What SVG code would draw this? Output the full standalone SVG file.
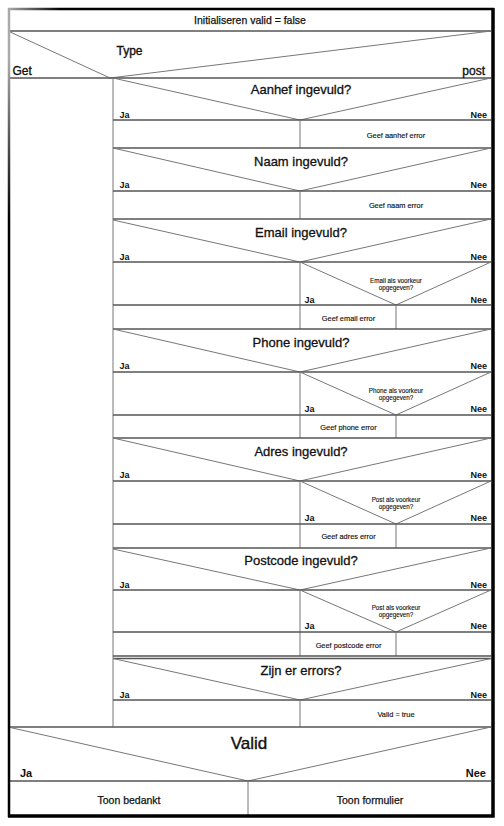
<svg xmlns="http://www.w3.org/2000/svg" width="504" height="826" viewBox="0 0 504 826">
<style>
text{font-family:"Liberation Sans",Arial,sans-serif;fill:#111;stroke:#111;stroke-width:0.2}
.q{font-size:13px;text-anchor:middle;stroke-width:0.3}
.yn{font-size:9px;font-weight:bold;stroke-width:0}
.r{font-size:7.4px;text-anchor:middle;stroke-width:0.15}
.n{font-size:6.3px;text-anchor:middle;stroke-width:0.12}
.e{text-anchor:end}
.ln{stroke:#777;stroke-width:1;fill:none}
.hl{stroke:#555;stroke-width:1.3;fill:none}
</style>
<defs>
<linearGradient id="gt" x1="8" y1="0" x2="60" y2="0" gradientUnits="userSpaceOnUse"><stop offset="0" stop-color="#aaa"/><stop offset="1" stop-color="#000"/></linearGradient>
<linearGradient id="gl" x1="0" y1="60" x2="0" y2="220" gradientUnits="userSpaceOnUse"><stop offset="0" stop-color="#aaa"/><stop offset="1" stop-color="#000"/></linearGradient>
</defs>
<rect x="0" y="0" width="504" height="826" fill="#fff"/>

<g id="init">
<line class="hl" x1="8" y1="31" x2="491" y2="31"/>
<text x="250" y="24.4" style="font-size:10.5px;text-anchor:middle;stroke-width:0.25">Initialiseren valid = false</text>
</g>

<g id="type">
<polyline class="ln" points="8,31 110,78 491,31"/>
<line class="hl" x1="8" y1="78" x2="491" y2="78"/>
<text x="116.5" y="55" style="font-size:12px;stroke-width:0.35">Type</text>
<text x="12.5" y="75" style="font-size:12px;stroke-width:0.35">Get</text>
<text x="485" y="75" class="e" style="font-size:12px;stroke-width:0.35">post</text>
<line class="ln" x1="113" y1="78" x2="113" y2="727"/>
</g>

<g id="aanhef">
<polyline class="ln" points="113,78 300,120 491,78"/>
<line class="hl" x1="113" y1="120" x2="491" y2="120"/>
<line class="ln" x1="300" y1="120" x2="300" y2="148"/>
<line class="hl" x1="113" y1="148" x2="491" y2="148"/>
<text class="q" x="301" y="94">Aanhef ingevuld?</text>
<text class="yn" x="119.5" y="118.2">Ja</text>
<text class="yn e" x="487" y="118.2">Nee</text>
<text class="r" x="396" y="137.6">Geef aanhef error</text>
</g>

<g id="naam">
<polyline class="ln" points="113,148 300,191 491,148"/>
<line class="hl" x1="113" y1="191" x2="491" y2="191"/>
<line class="ln" x1="300" y1="191" x2="300" y2="219"/>
<line class="hl" x1="113" y1="219" x2="491" y2="219"/>
<text class="q" x="301" y="166.3">Naam ingevuld?</text>
<text class="yn" x="119.5" y="188.2">Ja</text>
<text class="yn e" x="487" y="188.2">Nee</text>
<text class="r" x="396" y="208.3">Geef naam error</text>
</g>

<g id="email">
<polyline class="ln" points="113,220 300,262 491,219"/>
<line class="hl" x1="113" y1="262" x2="491" y2="262"/>
<line class="ln" x1="300" y1="262" x2="300" y2="329"/>
<polyline class="ln" points="300,262 396,305 491,262"/>
<line class="hl" x1="113" y1="305" x2="491" y2="305"/>
<line class="ln" x1="396" y1="305" x2="396" y2="329"/>
<line class="hl" x1="113" y1="329" x2="491" y2="329"/>
<text class="q" x="301" y="237.3">Email ingevuld?</text>
<text class="yn" x="119.5" y="259.9">Ja</text>
<text class="yn e" x="487" y="259.9">Nee</text>
<text class="n" x="396" y="282.5">Email als voorkeur</text>
<text class="n" x="396" y="289.5">opgegeven?</text>
<text class="yn" x="304.5" y="302.5">Ja</text>
<text class="yn e" x="487" y="302.5">Nee</text>
<text class="r" x="348.5" y="321">Geef email error</text>
</g>

<g id="phone">
<polyline class="ln" points="113,329 300,372 491,329"/>
<line class="hl" x1="113" y1="372" x2="491" y2="372"/>
<line class="ln" x1="300" y1="372" x2="300" y2="438"/>
<polyline class="ln" points="300,372 396,415 491,372"/>
<line class="hl" x1="113" y1="415" x2="491" y2="415"/>
<line class="ln" x1="396" y1="415" x2="396" y2="438"/>
<line class="hl" x1="113" y1="438" x2="491" y2="438"/>
<text class="q" x="301" y="347">Phone ingevuld?</text>
<text class="yn" x="119.5" y="368.9">Ja</text>
<text class="yn e" x="487" y="368.9">Nee</text>
<text class="n" x="396" y="392.5">Phone als voorkeur</text>
<text class="n" x="396" y="399.5">opgegeven?</text>
<text class="yn" x="304.5" y="411.5">Ja</text>
<text class="yn e" x="487" y="411.5">Nee</text>
<text class="r" x="348.5" y="430">Geef phone error</text>
</g>

<g id="adres">
<polyline class="ln" points="113,438 300,481 491,438"/>
<line class="hl" x1="113" y1="481" x2="491" y2="481"/>
<line class="ln" x1="300" y1="481" x2="300" y2="548"/>
<polyline class="ln" points="300,481 396,524 491,481"/>
<line class="hl" x1="113" y1="524" x2="491" y2="524"/>
<line class="ln" x1="396" y1="524" x2="396" y2="548"/>
<line class="hl" x1="113" y1="548" x2="491" y2="548"/>
<text class="q" x="301" y="456.3">Adres ingevuld?</text>
<text class="yn" x="119.5" y="478.2">Ja</text>
<text class="yn e" x="487" y="478.2">Nee</text>
<text class="n" x="396" y="501.5">Post als voorkeur</text>
<text class="n" x="396" y="508.5">opgegeven?</text>
<text class="yn" x="304.5" y="520.5">Ja</text>
<text class="yn e" x="487" y="520.5">Nee</text>
<text class="r" x="348.5" y="539.3">Geef adres error</text>
</g>

<g id="postcode">
<polyline class="ln" points="113,549 300,590 491,548"/>
<line class="hl" x1="113" y1="590" x2="491" y2="590"/>
<line class="ln" x1="300" y1="590" x2="300" y2="656"/>
<polyline class="ln" points="300,590 396,632 491,590"/>
<line class="hl" x1="113" y1="632" x2="491" y2="632"/>
<line class="ln" x1="396" y1="632" x2="396" y2="656"/>
<line class="hl" x1="113" y1="656" x2="491" y2="656"/>
<text class="q" x="301" y="565.3">Postcode ingevuld?</text>
<text class="yn" x="119.5" y="587.5">Ja</text>
<text class="yn e" x="487" y="587.5">Nee</text>
<text class="n" x="396" y="610">Post als voorkeur</text>
<text class="n" x="396" y="617">opgegeven?</text>
<text class="yn" x="304.5" y="629.2">Ja</text>
<text class="yn e" x="487" y="629.2">Nee</text>
<text class="r" x="348.5" y="648">Geef postcode error</text>
</g>

<g id="errors">
<line class="hl" x1="113" y1="658.5" x2="491" y2="658.5"/>
<polyline class="ln" points="113,658.5 300,700 491,658.5"/>
<line class="hl" x1="113" y1="700" x2="491" y2="700"/>
<line class="ln" x1="300" y1="700" x2="300" y2="727"/>
<line class="hl" x1="8" y1="727" x2="491" y2="727"/>
<text class="q" x="301" y="675.3">Zijn er errors?</text>
<text class="yn" x="119.5" y="697.5">Ja</text>
<text class="yn e" x="487" y="697.5">Nee</text>
<text class="r" x="396" y="716.6">Valid = true</text>
</g>

<g id="valid">
<polyline class="ln" points="8,727 248,781 491,727"/>
<line class="hl" x1="8" y1="781" x2="491" y2="781"/>
<line class="ln" x1="248" y1="781" x2="248" y2="815"/>
<text x="249" y="749.4" style="font-size:17px;text-anchor:middle;stroke-width:0.4">Valid</text>
<text x="20" y="777.2" style="font-size:11px;font-weight:bold;stroke-width:0">Ja</text>
<text x="486" y="777.2" class="e" style="font-size:11px;font-weight:bold;stroke-width:0">Nee</text>
<text x="129" y="803.8" style="font-size:10.5px;text-anchor:middle;stroke-width:0.25">Toon bedankt</text>
<text x="370" y="803.8" style="font-size:10.5px;text-anchor:middle;stroke-width:0.25">Toon formulier</text>
</g>

<g id="frame">
<line x1="8" y1="9" x2="494" y2="9" stroke="url(#gt)" stroke-width="2.5"/>
<line x1="9" y1="8" x2="9" y2="817" stroke="url(#gl)" stroke-width="2.5"/>
<polyline points="493,8 493,816 8,816" fill="none" stroke="#000" stroke-width="3.5"/>
</g>
</svg>
